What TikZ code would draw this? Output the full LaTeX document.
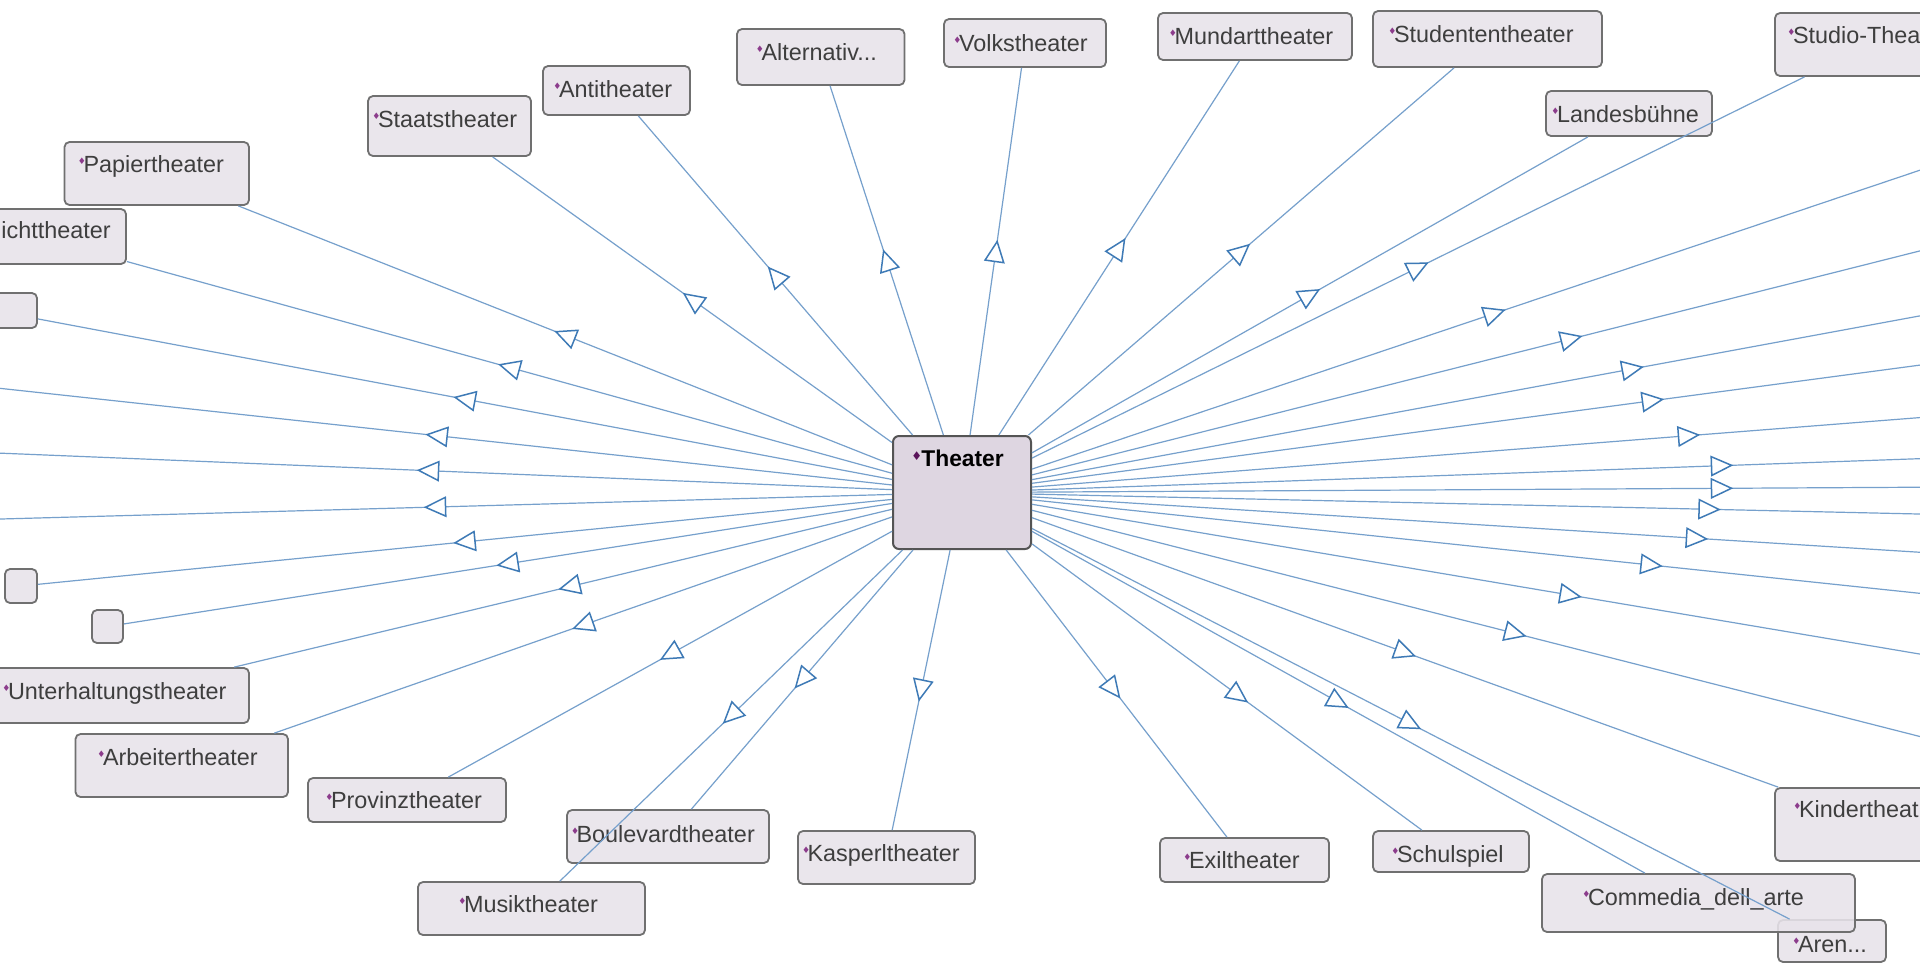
\documentclass[tikz,border=0pt]{standalone}
\usepackage{fontspec}
\setmainfont{Liberation Sans}
\newfontfamily\symfont{DejaVu Sans}
\usetikzlibrary{fit,decorations.markings}

\definecolor{boxfill}{RGB}{232,227,234}
\definecolor{rootfill}{RGB}{222,214,225}
\definecolor{boxline}{RGB}{112,112,112}
\definecolor{labeltext}{RGB}{62,62,62}
\definecolor{linkblue}{RGB}{118,160,204}
\definecolor{headblue}{RGB}{62,122,182}
\definecolor{markpurple}{RGB}{140,60,140}
\definecolor{rootmark}{RGB}{90,20,90}

% small class marker in front of every class name
\newcommand\kmark{\makebox[2.8pt][l]{\raisebox{3.9pt}{\textcolor{markpurple}{\symfont\fontsize{4.5pt}{4.5pt}\selectfont ♦}}}}

\tikzset{
  box/.style={draw=boxline, line width=0.9pt, fill=boxfill, fill opacity=0.88,
    rounded corners=2.5pt, inner sep=0pt},
  lbl/.style={anchor=base west, inner sep=0pt, text=labeltext,
    font=\fontsize{11.7pt}{14pt}\selectfont},
  link/.style={draw=linkblue, line width=0.6pt,
    postaction={decorate, decoration={markings,
      mark=at position #1 with {\draw[headblue, line width=0.75pt, fill=white, line join=miter]
        (5pt,0pt) -- (-5pt,4.7pt) -- (-5pt,-4.7pt) -- cycle;}}}},
  link/.default=0.5
}

% class box (name, corners) with its label (start of marker, baseline)
\newcommand\klasse[8]{%
  \node[box, fit={(#2,#3) (#4,#5)}] (#1) {};
  \node[lbl] (#1-name) at (#6,#7) {\kmark#8};
}

\begin{document}
\begin{tikzpicture}[x=0.5pt, y=-0.5pt]
\useasboundingbox (0,0) rectangle (1920,965);
\clip (0,0) rectangle (1920,965);
\fill[white] (0,0) rectangle (1920,965);

% central class
\node[box, fill=rootfill, fill opacity=1, draw=boxline!75!black, line width=1pt,
  rounded corners=3pt, fit={(893,436) (1031,549)}] (theater) {};
\node[lbl, text=black, font=\bfseries\fontsize{11.4pt}{14pt}\selectfont] (theater-name) at (911,466)
  {\makebox[5pt][l]{\raisebox{3pt}{\textcolor{rootmark}{\symfont\fontsize{6pt}{6pt}\selectfont ♦}}}Theater};

% subclasses
\klasse{staats}{368}{96}{531}{156}{372}{127}{Staatstheater}
\klasse{papier}{64.5}{142}{249}{205}{77.5}{172}{Papiertheater}
\klasse{anti}{543}{66}{690}{115}{553}{97}{Antitheater}
\klasse{altern}{737}{29}{904.5}{85}{755.5}{60}{Alternativ...}
\klasse{volks}{944}{19}{1106}{67}{953}{51}{Volkstheater}
\klasse{mundart}{1158}{13}{1352}{60}{1168.5}{44}{Mundarttheater}
\klasse{studenten}{1373}{11}{1602}{67}{1388}{42}{Studententheater}
\klasse{landes}{1546}{91}{1712}{136}{1551}{122}{Landesbühne}
\klasse{studio}{1775}{13}{1965}{76}{1787}{43}{Studio-Thea}
\klasse{kinder}{1775}{788}{1988}{861}{1793}{817}{Kindertheat}
\klasse{arena}{1778}{920}{1886}{962}{1792}{952}{Aren...}
\klasse{commedia}{1542}{874}{1855}{932}{1582}{905}{Commedia\_dell\_arte}
\klasse{schul}{1373}{831}{1529}{872}{1391}{862}{Schulspiel}
\klasse{exil}{1160}{838}{1329}{882}{1183}{868}{Exiltheater}
\klasse{kasperl}{798}{831}{975}{884}{801.6}{861}{Kasperltheater}
\klasse{boulevard}{567}{810}{769}{863}{570.6}{842}{Boulevardtheater}
\klasse{musik}{418}{882}{645}{935}{458}{912}{Musiktheater}
\klasse{provinz}{308}{778}{506}{822}{325}{808}{Provinztheater}
\klasse{arbeiter}{75.5}{734}{288}{797}{97}{765}{Arbeitertheater}
\klasse{unterhaltung}{-17}{668}{249}{723}{2}{699}{Unterhaltungstheater}

\node[box, fit={(-54,209) (126,264)}] (licht) {};
\node[lbl] (licht-name) at (1,238) {ichttheater};
\node[box, fit={(-51,293) (37,328)}] (cutbox) {};
\node[box, fit={(5,569) (37,603)}] (sqa) {};
\node[box, fit={(92,610) (123,643)}] (sqb) {};

% far ends of links whose classes lie beyond the frame
\coordinate (eL1) at (-17.8,386.4);
\coordinate (eL2) at (-35,451.7);
\coordinate (eL3) at (-21,519.6);
\coordinate (eR1) at (1957,157.7);
\coordinate (eR2) at (2110.2,202.9);
\coordinate (eR3) at (2232.6,258.2);
\coordinate (eR4) at (2273,318.1);
\coordinate (eR5) at (2345,384.3);
\coordinate (eR6) at (2411,441.3);
\coordinate (eR7) at (2411,484.5);
\coordinate (eR8) at (2386.2,524.5);
\coordinate (eR9) at (2361,579.8);
\coordinate (eR10) at (2270.2,630.2);
\coordinate (eR11) at (2108.6,685.9);
\coordinate (eR12) at (1998.4,756.5);

% generalisation links
\foreach \n in {staats,papier,anti,altern,volks,mundart,studenten,landes,studio,kinder,
  arena,commedia,kasperl,boulevard,musik,provinz,arbeiter,licht,cutbox,sqa,sqb,
  eL1,eL2,eL3,eR1,eR2,eR3,eR4,eR5,eR6,eR7,eR8,eR9,eR10,eR11,eR12}
  \draw[link] (theater) -- (\n);
\draw[link=0.485] (theater) -- (exil);
\draw[link=0.53] (theater) -- (schul);
\draw[link=0.49] (theater) -- (unterhaltung);
\end{tikzpicture}
\end{document}
